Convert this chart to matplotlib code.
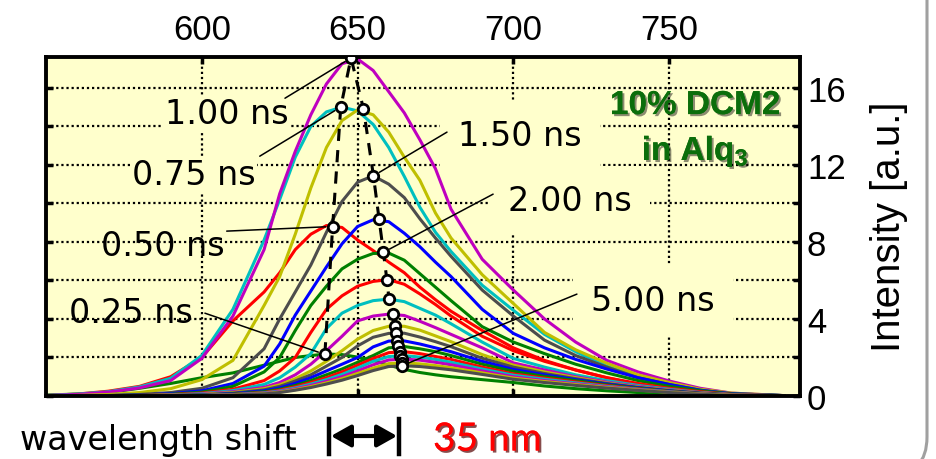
import matplotlib
matplotlib.use('Agg')
import matplotlib.pyplot as plt
import matplotlib.patheffects as pe
from matplotlib.patches import FancyBboxPatch, FancyArrowPatch
from matplotlib.lines import Line2D

plt.rcParams['font.family'] = ['DejaVu Sans']
plt.rcParams['mathtext.fontset'] = 'custom'
plt.rcParams['mathtext.rm'] = 'Liberation Sans'
plt.rcParams['mathtext.bf'] = 'Liberation Sans:bold'

# ---------------- data ----------------
wavelength = [550, 560, 570, 580, 590, 600, 610, 620, 625, 630, 635, 640, 645, 650, 655,
              660, 665, 670, 675, 680, 690, 700, 710, 720, 730, 740, 750, 760, 770, 787]

I_025 = [0.05, 0.10, 0.18, 0.40, 0.65, 0.95, 1.20, 1.60, 1.80, 2.00, 2.10, 2.18, 2.15, 2.02, 1.85,
         1.60, 1.38, 1.22, 1.10, 1.00, 0.85, 0.70, 0.52, 0.38, 0.27, 0.18, 0.11, 0.06, 0.03, 0.01]
I_050 = [0.03, 0.10, 0.25, 0.50, 1.00, 2.00, 3.90, 5.40, 6.40, 7.60, 8.40, 8.85, 8.75, 8.10, 7.55,
         6.95, 6.40, 5.65, 5.00, 4.40, 3.40, 2.50, 1.85, 1.35, 0.95, 0.60, 0.38, 0.20, 0.08, 0.01]
I_075 = [0.03, 0.10, 0.22, 0.47, 0.92, 2.10, 4.50, 8.10, 10.20, 12.40, 14.00, 14.75, 15.00, 14.80, 14.10,
         12.90, 11.40, 9.80, 8.50, 7.50, 5.75, 4.45, 3.20, 2.30, 1.55, 1.00, 0.60, 0.30, 0.12, 0.02]
I_100 = [0.02, 0.08, 0.20, 0.42, 0.80, 1.95, 4.15, 7.60, 10.50, 12.70, 14.60, 16.20, 17.25, 17.50, 16.90,
         15.80, 14.70, 13.30, 11.80, 9.70, 7.10, 5.50, 4.00, 2.80, 1.85, 1.25, 0.78, 0.40, 0.15, 0.02]
I_125 = [0.00, 0.03, 0.08, 0.18, 0.38, 0.85, 1.85, 4.70, 6.20, 8.40, 10.80, 12.90, 14.30, 14.85, 14.60,
         13.70, 12.40, 11.20, 9.50, 8.20, 6.30, 4.80, 3.30, 2.40, 1.70, 1.10, 0.70, 0.35, 0.15, 0.02]
I_150 = [0.00, 0.01, 0.03, 0.08, 0.18, 0.40, 0.95, 2.45, 4.00, 5.40, 6.80, 8.50, 10.10, 11.10, 11.43,
         11.00, 10.30, 9.20, 8.20, 7.25, 5.50, 4.15, 2.90, 2.10, 1.50, 0.95, 0.60, 0.30, 0.12, 0.02]
I_175 = [0.00, 0.01, 0.02, 0.05, 0.12, 0.27, 0.65, 1.55, 2.70, 4.20, 5.45, 6.70, 7.90, 8.80, 9.15,
         9.05, 8.45, 7.75, 6.95, 6.20, 4.50, 3.25, 2.50, 1.90, 1.40, 0.95, 0.60, 0.30, 0.12, 0.02]
I_200 = [0.00, 0.01, 0.02, 0.04, 0.09, 0.20, 0.50, 1.25, 2.00, 3.40, 4.70, 5.70, 6.60, 7.10, 7.40,
         7.42, 7.05, 6.35, 5.65, 4.95, 3.60, 2.80, 2.20, 1.65, 1.20, 0.80, 0.50, 0.27, 0.10, 0.02]
I_225 = [0.00, 0.00, 0.01, 0.03, 0.07, 0.15, 0.35, 0.80, 1.30, 2.00, 3.30, 4.50, 5.20, 5.70, 5.95,
         6.04, 5.80, 5.30, 4.75, 4.15, 3.10, 2.35, 1.80, 1.35, 0.95, 0.65, 0.40, 0.22, 0.08, 0.01]
I_250 = [0.00, 0.00, 0.01, 0.02, 0.05, 0.12, 0.28, 0.60, 0.95, 1.50, 2.20, 3.50, 4.30, 4.70, 4.95,
         5.03, 4.90, 4.55, 4.20, 3.75, 2.80, 1.95, 1.50, 1.10, 0.80, 0.55, 0.35, 0.18, 0.07, 0.01]
I_275 = [0.00, 0.00, 0.01, 0.02, 0.04, 0.10, 0.22, 0.45, 0.70, 1.10, 1.65, 2.35, 3.10, 3.90, 4.15,
         4.25, 4.18, 3.88, 3.55, 3.20, 2.50, 1.72, 1.35, 1.00, 0.72, 0.50, 0.32, 0.17, 0.07, 0.01]
I_300 = [0.00, 0.00, 0.01, 0.02, 0.04, 0.08, 0.18, 0.38, 0.58, 0.90, 1.30, 1.80, 2.35, 2.95, 3.40,
         3.62, 3.62, 3.42, 3.12, 2.82, 2.15, 1.60, 1.25, 0.95, 0.68, 0.47, 0.30, 0.16, 0.06, 0.01]
I_325 = [0.00, 0.00, 0.00, 0.01, 0.03, 0.06, 0.15, 0.32, 0.50, 0.78, 1.10, 1.55, 2.00, 2.60, 3.05,
         3.25, 3.26, 3.06, 2.82, 2.56, 1.96, 1.50, 1.17, 0.90, 0.65, 0.45, 0.28, 0.15, 0.06, 0.01]
I_350 = [0.00, 0.00, 0.00, 0.01, 0.02, 0.05, 0.12, 0.27, 0.42, 0.66, 0.95, 1.30, 1.65, 2.00, 2.55,
         2.85, 2.86, 2.70, 2.50, 2.30, 1.80, 1.38, 1.10, 0.85, 0.62, 0.43, 0.27, 0.14, 0.05, 0.01]
I_375 = [0.00, 0.00, 0.00, 0.01, 0.02, 0.04, 0.10, 0.22, 0.35, 0.55, 0.80, 1.10, 1.40, 1.75, 2.10,
         2.50, 2.57, 2.45, 2.30, 2.10, 1.65, 1.28, 1.02, 0.80, 0.58, 0.40, 0.25, 0.13, 0.05, 0.01]
I_400 = [0.00, 0.00, 0.00, 0.01, 0.01, 0.03, 0.08, 0.18, 0.30, 0.48, 0.70, 0.95, 1.25, 1.60, 1.95,
         2.25, 2.30, 2.20, 2.05, 1.90, 1.50, 1.15, 0.93, 0.73, 0.54, 0.37, 0.23, 0.12, 0.05, 0.01]
I_425 = [0.00, 0.00, 0.00, 0.01, 0.01, 0.03, 0.07, 0.16, 0.26, 0.42, 0.62, 0.85, 1.12, 1.45, 1.80,
         2.05, 2.10, 2.02, 1.90, 1.75, 1.40, 1.08, 0.87, 0.68, 0.50, 0.35, 0.22, 0.11, 0.04, 0.01]
I_450 = [0.00, 0.00, 0.00, 0.00, 0.01, 0.02, 0.06, 0.14, 0.23, 0.37, 0.55, 0.76, 1.00, 1.30, 1.62,
         1.87, 1.92, 1.86, 1.75, 1.62, 1.30, 1.00, 0.80, 0.63, 0.47, 0.33, 0.20, 0.10, 0.04, 0.01]
I_475 = [0.00, 0.00, 0.00, 0.00, 0.01, 0.02, 0.05, 0.12, 0.20, 0.33, 0.49, 0.68, 0.90, 1.17, 1.45,
         1.68, 1.72, 1.67, 1.58, 1.47, 1.20, 0.93, 0.75, 0.59, 0.44, 0.31, 0.19, 0.10, 0.04, 0.01]
I_500 = [0.00, 0.00, 0.00, 0.00, 0.01, 0.02, 0.05, 0.11, 0.18, 0.30, 0.44, 0.62, 0.82, 1.06, 1.32,
         1.53, 1.57, 1.53, 1.45, 1.36, 1.12, 0.87, 0.70, 0.55, 0.41, 0.29, 0.18, 0.09, 0.03, 0.01]

delay_ns = [0.25, 0.50, 0.75, 1.00, 1.25, 1.50, 1.75, 2.00, 2.25, 2.50,
            2.75, 3.00, 3.25, 3.50, 3.75, 4.00, 4.25, 4.50, 4.75, 5.00]
spectra = [I_025, I_050, I_075, I_100, I_125, I_150, I_175, I_200, I_225, I_250,
           I_275, I_300, I_325, I_350, I_375, I_400, I_425, I_450, I_475, I_500]

peak_wl = [639.5, 642.0, 644.6, 647.9, 651.9, 655.1, 656.9, 658.3, 659.4, 660.1,
           661.3, 662.1, 662.4, 662.6, 663.1, 663.5, 663.7, 664.2, 664.2, 664.2]
peak_int = [2.16, 8.80, 15.00, 17.55, 14.90, 11.43, 9.19, 7.46, 6.04, 5.03,
            4.26, 3.65, 3.27, 2.87, 2.58, 2.30, 2.10, 1.92, 1.72, 1.57]

color_cycle = ['#008000', '#FF0000', '#00BFBF', '#BF00BF', '#BFBF00', '#4D4D4D', '#0000FF']

x_ticks = [600, 650, 700, 750]
y_ticks = [0, 4, 8, 12, 16]
y_minor = [2, 6, 10, 14]

# labelled delays: label text position and leader start (data units)
labelled = [1.00, 0.75, 1.50, 2.00, 0.50, 0.25, 5.00]
label_pos = [(608.0, 14.84), (597.4, 11.68), (702.2, 13.70), (718.2, 10.33),
             (587.5, 7.99), (577.3, 4.51), (744.9, 5.14)]
leader_start = [(626.7, 15.46), (618.6, 12.45), (678.7, 13.70), (693.5, 10.48),
                (608.0, 8.56), (601.0, 4.30), (720.4, 5.29)]
label_boxed = [True, True, True, True, False, False, True]

# ---------------- figure ----------------
W, H = 937, 460
fig = plt.figure(figsize=(W / 100, H / 100), dpi=100)
fig.patch.set_facecolor('white')

def fpx(x, y):
    return (x / W, 1 - y / H)

ax = fig.add_axes([46 / W, (H - 397) / H, 754 / W, 339 / H])
ax.set_facecolor('#FFFFCC')
ax.set_xlim(550, 792)
ax.set_ylim(0, 17.6)

ax.set_xticks(x_ticks)
ax.set_yticks(y_ticks)
ax.set_yticks(y_minor, minor=True)
ax.xaxis.tick_top()
ax.yaxis.tick_right()
ax.tick_params(which='both', direction='in', length=5, width=2.5,
               top=True, bottom=True, left=True, right=True,
               labeltop=True, labelbottom=False, labelleft=False, labelright=True)
ax.tick_params(axis='x', pad=8, labelsize=25)
ax.tick_params(axis='y', pad=5, labelsize=25)
for lab in ax.get_xticklabels() + ax.get_yticklabels():
    lab.set_fontfamily('Liberation Sans')

ax.set_axisbelow(True)
ax.grid(True, which='both', axis='y', color='black', lw=1.6, ls=(0, (1, 1.3)))
ax.grid(True, which='major', axis='x', color='black', lw=1.6, ls=(0, (1, 1.3)))
for s in ax.spines.values():
    s.set_linewidth(2.8)

for i, (t, spec) in enumerate(zip(delay_ns, spectra)):
    ax.plot(wavelength, spec, color=color_cycle[i % len(color_cycle)], lw=2.2,
            zorder=2 + i * 0.01, solid_joinstyle='round')

# dashed line through peaks + markers
ax.plot(peak_wl, peak_int, color='black', lw=2.2, dashes=(4, 3), zorder=4)
ax.plot(peak_wl, peak_int, ls='none', marker='o', ms=7.5, mfc='white', mec='black',
        mew=2.0, zorder=5)

# labels with leader lines
for t, (tx, ty), (sx, sy), boxed in zip(labelled, label_pos, leader_start, label_boxed):
    k = delay_ns.index(t)
    ax.annotate('', xy=(peak_wl[k], peak_int[k]), xytext=(sx, sy),
                arrowprops=dict(arrowstyle='-', lw=1.1, color='black',
                                shrinkA=0, shrinkB=5), zorder=4.5)
    kw = {}
    if boxed:
        padv = 0.55 if t in (1.50, 2.00, 5.00) else 0.05
        kw['bbox'] = dict(boxstyle='square,pad=%.2f' % padv, fc='#FFFFCC', ec='none')
    ax.text(tx, ty, '%.2f ns' % t, fontsize=24, ha='center', va='center_baseline',
            color='black', zorder=3, **kw)

# sample annotation
shadow = [pe.withSimplePatchShadow(offset=(1.5, -1.5), shadow_rgbFace='#000000', alpha=0.45),
          pe.Normal()]
ax.text(758.4, 15.26, '10% DCM2', fontsize=24, fontweight='bold', family='Liberation Sans',
        color='#0B6E0B', ha='center', va='center_baseline', zorder=6, path_effects=shadow)
ax.text(758.4, 12.92, r'in Alq$_\mathbf{3}$', fontsize=24, fontweight='bold',
        family='Liberation Sans', color='#0B6E0B', ha='center', va='center_baseline',
        zorder=6, path_effects=shadow)

# right axis title
fig.text(*fpx(889, 227), 'Intensity [a.u.]', rotation=90, fontsize=29,
         family='Liberation Sans', ha='center', va='center')

# bottom: wavelength shift annotation
fig.text(*fpx(20, 437), 'wavelength shift', fontsize=24, ha='left', va='center_baseline',
         family='DejaVu Sans')
y0 = 437
for bx in (329, 399):
    fig.add_artist(Line2D([bx / W, bx / W], [1 - 420 / H, 1 - 455 / H], color='black', lw=3.2,
                          transform=fig.transFigure))
arrow = FancyArrowPatch(fpx(331, y0), fpx(397, y0),
                        arrowstyle='<|-|>,head_length=8,head_width=4.5',
                        mutation_scale=1.5, color='black', lw=3, transform=fig.transFigure,
                        shrinkA=0, shrinkB=0)
fig.add_artist(arrow)
fig.text(*fpx(433, 437), '35 nm', fontsize=28, family='Lato', color='#FF0000',
         ha='left', va='center_baseline',
         path_effects=[pe.withSimplePatchShadow(offset=(1.5, -1.5), shadow_rgbFace='#550000',
                                                alpha=0.7), pe.Normal()])

# grey rounded frame at right
frame = FancyBboxPatch((-200, -16), 200 + 927, 700, boxstyle='round,pad=0,rounding_size=38',
                       transform=None, fc='none', ec='#A0A0A0', lw=2.2)
fig.add_artist(frame)

fig.savefig('out.png', dpi=100, facecolor='white')
